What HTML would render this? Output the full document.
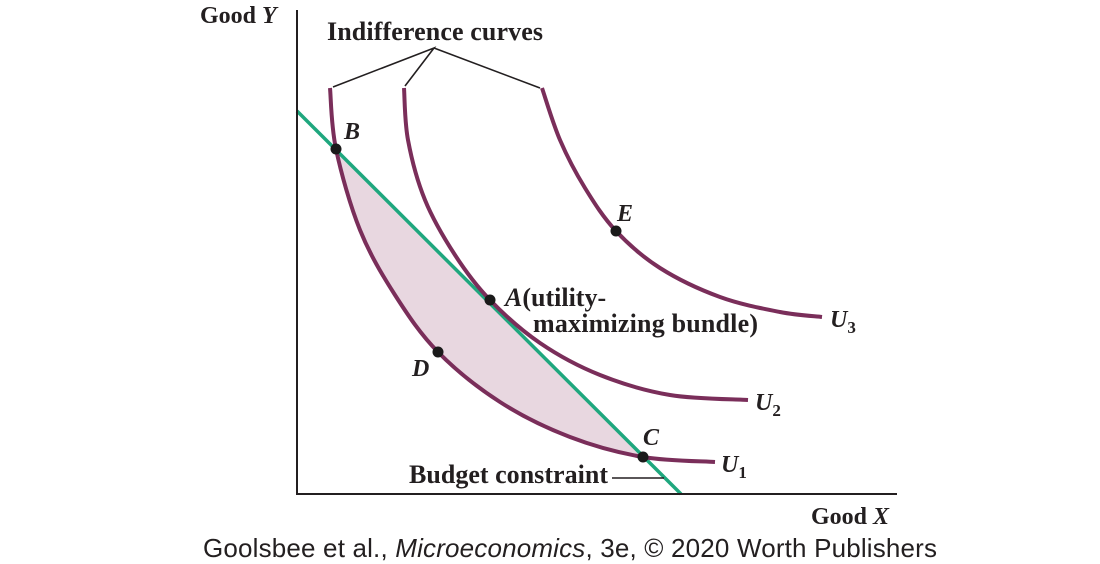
<!DOCTYPE html>
<html><head><meta charset="utf-8"><style>
html,body{margin:0;padding:0;background:#fff;}
svg{display:block;}
.s{font-family:"Liberation Serif",serif;font-weight:bold;fill:#231f20;}
.i{font-style:italic;}
</style></head><body>
<svg id="chart" width="1100" height="564" viewBox="0 0 1100 564">
<g id="g"></g>
<line x1="297" y1="10" x2="297" y2="495" stroke="#231f20" stroke-width="2"/>
<line x1="296" y1="494" x2="897" y2="494" stroke="#231f20" stroke-width="2"/>
<text class="s" x="200" y="23" font-size="24">Good <tspan class="i">Y</tspan></text>
<text class="s" x="811" y="524" font-size="24">Good <tspan class="i">X</tspan></text>
<text class="s" x="327" y="40" font-size="26" textLength="216">Indifference curves</text>
<polyline points="333,87 434,48 405,86" fill="none" stroke="#231f20" stroke-width="1.6"/>
<line x1="434" y1="48" x2="540" y2="88" stroke="#231f20" stroke-width="1.6"/>
<text class="s" x="409" y="483" font-size="26" textLength="199">Budget constraint</text>
<line x1="612" y1="478" x2="664" y2="478" stroke="#231f20" stroke-width="1.6"/>
<text class="s i" x="344" y="139" font-size="24">B</text>
<text class="s i" x="617" y="221" font-size="24">E</text>
<text class="s" x="505" y="306" font-size="26"><tspan class="i">A</tspan>(utility-</text>
<text class="s" x="533" y="332" font-size="26" textLength="225">maximizing bundle)</text>
<text class="s i" x="412" y="376" font-size="24">D</text>
<text class="s i" x="643" y="445" font-size="24">C</text>
<text class="s i" x="721" y="472" font-size="24">U<tspan font-size="17" dy="6" font-style="normal">1</tspan></text>
<text class="s i" x="755" y="410" font-size="24">U<tspan font-size="17" dy="6" font-style="normal">2</tspan></text>
<text class="s i" x="830" y="327" font-size="24">U<tspan font-size="17" dy="6" font-style="normal">3</tspan></text>
<text x="570" y="557" text-anchor="middle" font-family="Liberation Sans, sans-serif" font-size="26" textLength="734" fill="#231f20">Goolsbee et al., <tspan font-style="italic">Microeconomics</tspan>, 3e, © 2020 Worth Publishers</text>
</svg>
<script>
const u1 = [[330,88],[336,149],[360,230],[395,295],[438,352],[500,402],[570,437],[643,457],[715,462]];
const u2 = [[404,88],[408,140],[425,200],[455,255],[490,300],[540,343],[600,375],[670,395],[748,400]];
const u3 = [[542,88],[560,140],[585,188],[616,231],[660,268],[720,297],[780,312],[822,317]];
const budget = [[297,111],[681,494]];
const dots = [[336,149],[490,300],[438,352],[643,457],[616,231]];
const dotNames = ['point-b','point-a','point-d','point-c','point-e'];
const NS='http://www.w3.org/2000/svg';
const g=document.getElementById('g');
function cr(p){let d='M'+p[0][0]+','+p[0][1];
 for(let i=0;i<p.length-1;i++){const p0=p[i-1]||p[i],p1=p[i],p2=p[i+1],p3=p[i+2]||p2;
  d+=' C'+(p1[0]+(p2[0]-p0[0])/6)+','+(p1[1]+(p2[1]-p0[1])/6)+' '+(p2[0]-(p3[0]-p1[0])/6)+','+(p2[1]-(p3[1]-p1[1])/6)+' '+p2[0]+','+p2[1];}
 return d;}
const seg=u1.slice(1,8);
const fill=document.createElementNS(NS,'path');
fill.setAttribute('d',cr(seg)+' Z');
fill.setAttribute('fill','#e8d7e0');


g.appendChild(fill);
const bl=document.createElementNS(NS,'line');
bl.setAttribute('x1',budget[0][0]);bl.setAttribute('y1',budget[0][1]);
bl.setAttribute('x2',budget[1][0]);bl.setAttribute('y2',budget[1][1]);
bl.setAttribute('stroke','#1fa77e');bl.setAttribute('stroke-width','3.5');


g.appendChild(bl);
[[u1,'curve-u1'],[u2,'curve-u2'],[u3,'curve-u3']].forEach(([p,n])=>{
 const c=document.createElementNS(NS,'path');
 c.setAttribute('d',cr(p));c.setAttribute('fill','none');
 c.setAttribute('stroke','#7a2e5a');c.setAttribute('stroke-width','4');
 
 
 g.appendChild(c);});
dots.forEach((d,i)=>{const c=document.createElementNS(NS,'circle');
 c.setAttribute('cx',d[0]);c.setAttribute('cy',d[1]);c.setAttribute('r','5.5');c.setAttribute('fill','#1a1a1a');
 
 
 g.appendChild(c);});
</script>
</body></html>
